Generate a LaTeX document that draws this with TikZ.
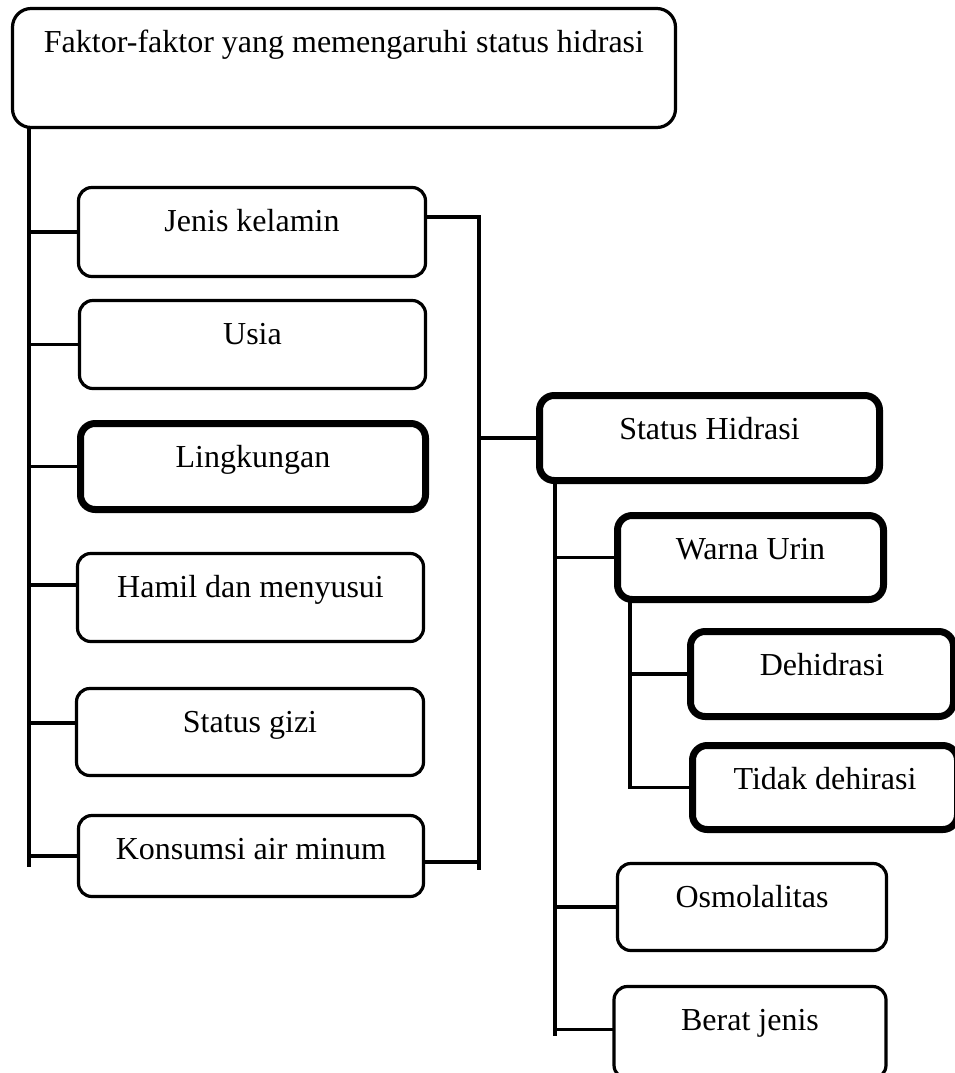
\documentclass[tikz,border=0pt]{standalone}
\usepackage{fontspec}
\setmainfont{Liberation Serif}
\tikzset{
  fbox/.style={draw, line width=2.4pt, rounded corners=10pt, inner sep=0pt, outer sep=0pt,
    text height=33pt, anchor=north west, font=\fontsize{24}{29}\selectfont},
  fboxthick/.style={fbox, line width=5.25pt, rounded corners=11pt},
  conn/.style={line width=2.4pt}
}

\begin{document}
\begin{tikzpicture}[x=0.75pt, y=-0.75pt]
        \useasboundingbox (0,0) rectangle (955,1073);
        \clip (0,0) rectangle (955,1073);
        % Faktor
        \node[fbox, rounded corners=14pt, minimum width=497.25pt, text depth=56.25pt] (faktor) at (12.5,8.5) {Faktor-faktor yang memengaruhi status hidrasi};
        \node[fbox, minimum width=260.25pt, text depth=33.75pt] (jenis) at (78.5,187.5) {Jenis kelamin};
        \node[fbox, minimum width=259.5pt, text depth=33pt] (usia) at (79.5,300.5) {Usia};
        \node[fboxthick, minimum width=258.75pt, text depth=31.5pt] (ling) at (80.5,423.5) {Lingkungan};
        \node[fbox, minimum width=259.5pt, text depth=33pt] (hamil) at (77.5,553.5) {Hamil dan menyusui};
        \node[fbox, minimum width=260.25pt, text depth=32.25pt] (gizi) at (76.5,688.5) {Status gizi};
        \node[fbox, minimum width=258.75pt, text depth=27.75pt] (konsumsi) at (78.5,815.5) {Konsumsi air minum};
        % Status hidrasi
        \node[fboxthick, minimum width=255pt, text depth=30.75pt] (status) at (539.5,395.5) {Status Hidrasi};
        \node[fboxthick, minimum width=199.5pt, text depth=30pt] (warna) at (617.5,515.5) {Warna Urin};
        \node[fboxthick, minimum width=197.25pt, text depth=30.75pt] (dehid) at (690.5,631.5) {Dehidrasi};
        \node[fboxthick, minimum width=198.75pt, text depth=30pt] (tidak) at (692.5,745.5) {Tidak dehirasi};
        \node[fbox, minimum width=201.75pt, text depth=32.25pt] (osmo) at (617.5,863.5) {Osmolalitas};
        \node[fbox, minimum width=204pt, text depth=36pt] (berat) at (614,986.5) {Berat jenis};
        % Trunks
        \coordinate (ltrunk) at (29,867);
        \coordinate (rbot) at (479,870);
        \coordinate (strunk) at (555,1036);
        \coordinate (wtrunk) at (630,790);
        % Left side
        \draw[conn] (faktor.south -| ltrunk) -- (ltrunk);
        \draw[conn] (jenis.west) -- (jenis.west -| ltrunk);
        \draw[conn] (usia.west) -- (usia.west -| ltrunk);
        \draw[conn] (ling.west) -- (ling.west -| ltrunk);
        \draw[conn] ([yshift=9.4pt]hamil.west) -- ([yshift=9.4pt]hamil.west -| ltrunk);
        \draw[conn] ([yshift=6.75pt]gizi.west) -- ([yshift=6.75pt]gizi.west -| ltrunk);
        \draw[conn] (konsumsi.west) -- (konsumsi.west -| ltrunk);
        % Bracket to status
        \draw[conn] ([yshift=11.25pt]jenis.east) -| (rbot);
        \draw[conn] ([yshift=-4.5pt]konsumsi.east) -- ([yshift=-4.5pt]konsumsi.east -| rbot);
        \draw[conn] (status.west) -- (status.west -| rbot);
        % Right side
        \draw[conn] (status.south -| strunk) -- (strunk);
        \draw[conn] (warna.west) -- (warna.west -| strunk);
        \draw[conn] (osmo.west) -- (osmo.west -| strunk);
        \draw[conn] ([yshift=2pt]berat.west) -- ([yshift=2pt]berat.west -| strunk);
        \draw[conn] (warna.south -| wtrunk) |- (tidak.west);
        \draw[conn] (dehid.west) -- (dehid.west -| wtrunk);
    \end{tikzpicture}
\end{document}
